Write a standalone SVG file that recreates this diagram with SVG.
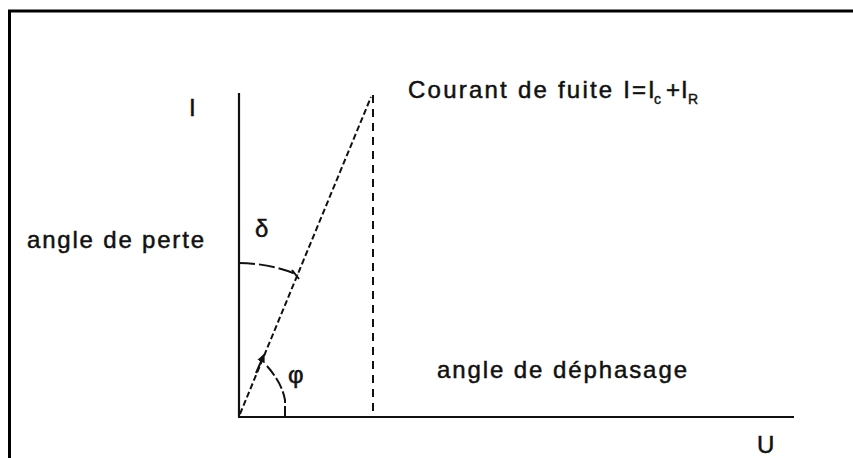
<svg xmlns="http://www.w3.org/2000/svg" width="853" height="458" viewBox="0 0 853 458">
<style>
.t{font-family:"Liberation Sans",Arial,sans-serif;font-size:24px;fill:#111;stroke:#111;stroke-width:0.5}
.s{font-family:"Liberation Sans",Arial,sans-serif;font-size:14px;fill:#111;stroke:#111;stroke-width:0.4}
.ax{stroke:#111;stroke-width:2.2;fill:none}
.d{stroke:#111;stroke-width:2;fill:none}
</style>
<defs>
<marker id="ah" markerWidth="10" markerHeight="10" refX="5" refY="5" orient="auto" markerUnits="userSpaceOnUse">
<path d="M0,1 L9,5 L0,9 Z" fill="#111"/>
</marker>
</defs>
<rect width="853" height="458" fill="#fff"/>
<rect id="frame" x="9.5" y="11" width="900" height="500" fill="none" stroke="#000" stroke-width="3"/>
<g id="connectors">
<line id="yaxis" class="ax" x1="239" y1="93" x2="239" y2="417"/>
<line id="xaxis" class="ax" x1="238" y1="417" x2="794" y2="417"/>
<line id="vdash" class="d" x1="373" y1="95" x2="373" y2="417" stroke-dasharray="8 6"/>
<line id="diag" class="d" x1="240" y1="414" x2="371" y2="97" stroke-dasharray="6 3"/>
<line class="d" x1="256" y1="373" x2="263" y2="357" marker-end="url(#ah)"/>
<path id="arc-delta" class="d" d="M239,263 A154,154 0 0 1 298,275" stroke-dasharray="16 4"/>
<path class="d" d="M292,270 L299,279"/>
<path id="arc-phi" class="d" d="M267,366 Q282,383 285,400 L285,417" stroke-dasharray="12 3"/>
</g>
<g id="label-I"><text class="t" x="189" y="116">I</text></g>
<g id="label-U"><text class="t" x="757" y="453">U</text></g>
<g id="label-courant">
<text class="t" x="408" y="98" textLength="222" lengthAdjust="spacing">Courant de fuite I</text>
<text class="t" x="632" y="98">=</text>
<text class="t" x="648" y="98">I</text>
<text class="s" x="654" y="104">c</text>
<text class="t" x="666" y="98">+</text>
<text class="t" x="681" y="98">I</text>
<text class="s" x="688" y="104">R</text>
</g>
<g id="label-perte"><text class="t" x="27" y="248" textLength="177" lengthAdjust="spacing">angle de perte</text></g>
<g id="label-dephasage"><text class="t" x="437" y="378" textLength="250" lengthAdjust="spacing">angle de déphasage</text></g>
<g id="label-delta"><text class="t" x="255" y="237">δ</text></g>
<g id="label-phi"><text class="t" x="288" y="383">φ</text></g>
</svg>
